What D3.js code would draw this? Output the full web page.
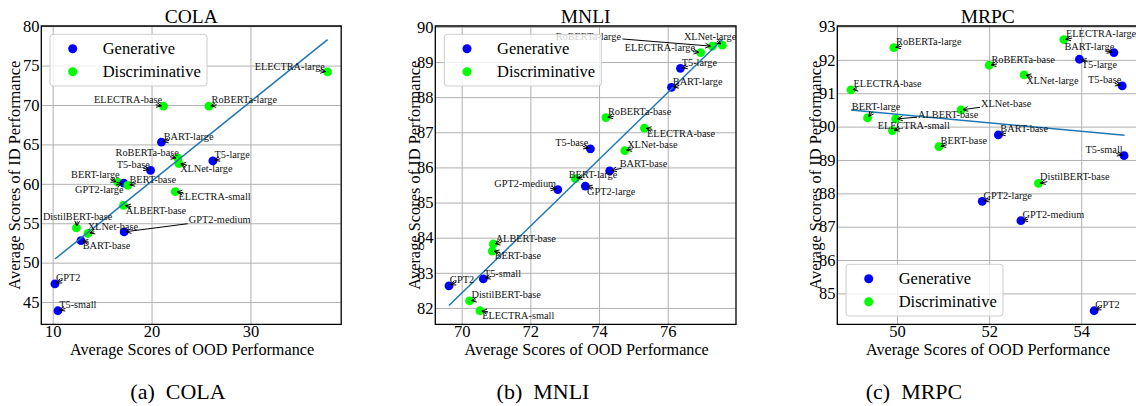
<!DOCTYPE html>
<html><head><meta charset="utf-8">
<script src="https://cdn.jsdelivr.net/npm/d3@7"></script>
<style>body{margin:0;background:#fff} svg{display:block}</style>
</head><body><svg id="c" width="1136" height="406"></svg>
<script>
// ---------- DATA ----------
const groupNames = ["Generative", "Discriminative"];
const xAxisTitle = "Average Scores of OOD Performance";
const yAxisTitle = "Average Scores of ID Performance";

// COLA
const colaModels = ["ELECTRA-large","ELECTRA-base","RoBERTa-large","BART-large","RoBERTa-base","XLNet-large","T5-large","T5-base","BERT-large","GPT2-large","BERT-base","ELECTRA-small","ALBERT-base","DistilBERT-base","XLNet-base","GPT2-medium","BART-base","GPT2","T5-small"];
const colaGroup  = ["D","D","D","G","D","D","G","G","D","G","D","D","D","D","D","G","G","G","G"];
const colaOOD    = [37.8,21.2,25.8,21.0,22.66,22.76,26.2,19.9,16.6,17.2,17.6,22.4,17.17,12.4,13.57,17.23,12.86,10.23,10.53];
const colaID     = [74.2,69.85,69.85,65.3,63.25,62.57,62.9,61.7,60.2,60.1,59.8,59.0,57.27,54.4,53.7,53.9,52.8,47.3,43.9];
const colaTrendX = [10.23, 37.8];
const colaTrendY = [50.46, 78.3];
const colaXTicks = [10, 20, 30];
const colaYTicks = [45, 50, 55, 60, 65, 70, 75, 80];

// MNLI
const mnliModels = ["XLNet-large","RoBERTa-large","ELECTRA-large","T5-large","BART-large","RoBERTa-base","ELECTRA-base","T5-base","XLNet-base","BART-base","BERT-large","GPT2-medium","GPT2-large","ALBERT-base","BERT-base","T5-small","GPT2","DistilBERT-base","ELECTRA-small"];
const mnliGroup  = ["D","D","D","G","G","D","D","G","D","G","D","G","G","D","D","G","G","D","D"];
const mnliOOD    = [77.59,77.3,76.96,76.37,76.11,74.2,75.32,73.75,74.75,74.31,73.31,72.8,73.6,70.92,70.89,70.63,69.63,70.23,70.53];
const mnliID     = [89.48,89.45,89.27,88.82,88.28,87.42,87.12,86.53,86.48,85.9,85.68,85.37,85.47,83.82,83.62,82.83,82.63,82.2,81.92];
const mnliTrendX = [69.63, 77.59];
const mnliTrendY = [82.07, 89.64];
const mnliXTicks = [70, 72, 74, 76];
const mnliYTicks = [82, 83, 84, 85, 86, 87, 88, 89, 90];

// MRPC
const mrpcModels = ["ELECTRA-large","BART-large","T5-large","RoBERTa-large","RoBERTa-base","XLNet-large","T5-base","ELECTRA-base","XLNet-base","BERT-large","ALBERT-base","ELECTRA-small","BART-base","BERT-base","T5-small","DistilBERT-base","GPT2-large","GPT2-medium","GPT2"];
const mrpcGroup  = ["D","G","G","D","D","D","G","D","D","D","D","D","G","D","G","D","G","G","G"];
const mrpcOOD    = [53.62,54.71,53.96,49.93,52.0,52.76,54.89,49.0,51.39,49.36,49.97,49.9,52.2,50.91,54.93,53.07,51.85,52.69,54.28];
const mrpcID     = [92.61,92.22,92.02,92.37,91.84,91.55,91.22,91.1,90.5,90.26,90.23,89.88,89.75,89.4,89.13,88.3,87.76,87.18,84.48];
const mrpcTrendX = [49.0, 54.94];
const mrpcTrendY = [90.5, 89.74];
const mrpcXTicks = [50, 52, 54];
const mrpcYTicks = [85, 86, 87, 88, 89, 90, 91, 92, 93];

// ---------- LAYOUT (annotation placement: anchor, dx, dy in px from point) ----------
const colaLabelPos = [["end",-2.7,-2],["end",-1.3,-2.9],["start",2.7,-2.9],["start",2.3,-2.5],["end",1,-1.9],["start",1.3,8.5],["start",1.7,-2.5],["end",-0.7,-2.2],["end",1.7,-3.9],["end",-0.3,9.5],["start",1.7,-2.2],["start",3.3,8.2],["start",2.3,9.1],["middle",1.2,-8.1],["start",-0.3,-3.2],["start",64.7,-8.8],["start",1.7,8.5],["start",1,-3.2],["start",1.3,-2.5]];
const mnliLabelPos = [["middle",-12.2,-5.5],["start",-156.7,-6.5],["end",-5.7,-1.5],["start",1.3,-2.2],["start",1.3,-2.5],["start",2,-2.1],["start",2.7,9.2],["end",-2,-2.5],["start",2.4,-2.8],["start",10,-4.2],["start",-6.6,-0.5],["end",-1.7,-2.5],["start",1.7,8.9],["start",2.4,-2.2],["start",2.4,8.2],["start",0.6,-2.1],["start",0.7,-2.8],["start",2,-2.5],["start",2.3,7.8]];
const mrpcLabelPos = [["start",2.3,-2.9],["end",0.3,-2.2],["start",2.4,8.5],["start",2.3,-2.5],["start",2.3,-2.1],["start",2,8.8],["end",-1,-2.5],["start",2.6,-2.5],["start",20,-2.8],["middle",8.6,-7.8],["start",22.4,-0.8],["start",-14.7,-1.9],["start",2,-2.5],["start",1.6,-2.5],["end",-1.4,-2.2],["start",1.7,-3.1],["start",1.3,-2.8],["start",1.6,-2.9],["start",1,-2.9]];

const panels = [
  {title:"COLA", caption:"(a)  COLA", models:colaModels, group:colaGroup, ood:colaOOD, id:colaID, tx:colaTrendX, ty:colaTrendY, xt:colaXTicks, yt:colaYTicks, lp:colaLabelPos,
   l:41.3, r:341.2, t:26, b:324.3, leg:[50,34.3], yTitleX:20, xTitleX:192, capX:178},
  {title:"MNLI", caption:"(b)  MNLI", models:mnliModels, group:mnliGroup, ood:mnliOOD, id:mnliID, tx:mnliTrendX, ty:mnliTrendY, xt:mnliXTicks, yt:mnliYTicks, lp:mnliLabelPos,
   l:435.3, r:736, t:26, b:324.3, leg:[444.3,34.3], yTitleX:419.5, xTitleX:586.7, capX:543},
  {title:"MRPC", caption:"(c)  MRPC", models:mrpcModels, group:mrpcGroup, ood:mrpcOOD, id:mrpcID, tx:mrpcTrendX, ty:mrpcTrendY, xt:mrpcXTicks, yt:mrpcYTicks, lp:mrpcLabelPos,
   l:837.3, r:1138.2, t:26, b:324.3, leg:[846,264.3], yTitleX:821, xTitleX:988, capX:914}
];

// pick an installed Times-like serif font
function pickFont(){
  const c = document.createElement("canvas").getContext("2d");
  const s = "Average Scores of OOD Performance 0123456789";
  const cands = ["Liberation Serif","Times New Roman","Tinos","Nimbus Roman","Times","FreeSerif","DejaVu Serif","Noto Serif"];
  for (const f of cands){
    let diff = false;
    for (const base of ["monospace","sans-serif"]){
      c.font = `20px ${base}`; const w0 = c.measureText(s).width;
      c.font = `20px "${f}", ${base}`; const w1 = c.measureText(s).width;
      if (Math.abs(w1-w0) > 0.5) diff = true;
    }
    if (diff) return `"${f}", serif`;
  }
  return "serif";
}
const FONT = pickFont();

const COLORS = {G:"#0000ff", D:"#00ff00"};
const svg = d3.select("#c").attr("font-family", FONT).style("font-family", FONT);

function padded(vals){
  const [a,b] = d3.extent(vals); const m = (b-a)*0.05; return [a-m, b+m];
}

panels.forEach(p => {
  const g = svg.append("g");
  const x = d3.scaleLinear().domain(padded(p.ood.concat(p.tx))).range([p.l, p.r]);
  const y = d3.scaleLinear().domain(padded(p.id.concat(p.ty))).range([p.b, p.t]);
  const W = p.r - p.l, H = p.b - p.t;

  // grid
  const gx = g.append("g").attr("transform",`translate(0,${p.b})`)
    .call(d3.axisBottom(x).tickValues(p.xt).tickSize(-H).tickFormat(""));
  const gy = g.append("g").attr("transform",`translate(${p.l},0)`)
    .call(d3.axisLeft(y).tickValues(p.yt).tickSize(-W).tickFormat(""));
  [gx,gy].forEach(s=>{ s.select(".domain").remove(); s.selectAll("line").attr("stroke","#b0b0b0").attr("stroke-width",1); });

  // tick labels
  const ax = g.append("g").attr("transform",`translate(0,${p.b})`)
    .call(d3.axisBottom(x).tickValues(p.xt).tickSize(0).tickPadding(0.5).tickFormat(d3.format("d")));
  const ay = g.append("g").attr("transform",`translate(${p.l},0)`)
    .call(d3.axisLeft(y).tickValues(p.yt).tickSize(0).tickPadding(1.8).tickFormat(d3.format("d")));
  [ax,ay].forEach(s=>{ s.attr("font-family",FONT).attr("font-size",16.5); s.select(".domain").remove(); s.selectAll("text").attr("font-size",16.5).attr("font-family",FONT).attr("fill","#000"); });

  // points
  p.models.forEach((m,i)=>{
    g.append("circle").attr("cx",x(p.ood[i])).attr("cy",y(p.id[i])).attr("r",4.4).attr("fill",COLORS[p.group[i]]);
  });

  // trend line
  g.append("path").attr("d", d3.line().x(d=>x(d[0])).y(d=>y(d[1]))(d3.zip(p.tx,p.ty)))
    .attr("stroke","#1f77b4").attr("stroke-width",1.5).attr("fill","none");

  // annotations
  p.models.forEach((m,i)=>{
    const px = x(p.ood[i]), py = y(p.id[i]);
    const [anc,dx,dy] = p.lp[i];
    const t = g.append("text").attr("x",px+dx).attr("y",py+dy).attr("text-anchor",anc)
      .attr("font-size",10.3).attr("fill","#111").text(m);
    const bb = t.node().getBBox();
    const pad = 1;
    const x0=bb.x-pad, x1=bb.x+bb.width+pad, y0=bb.y+1.5-pad, y1=bb.y+bb.height-1.5+pad;
    const cx=(x0+x1)/2, cy=(y0+y1)/2;
    let sx, sy;
    const inside = px>x0 && px<x1 && py>y0 && py<y1;
    const vx = px-cx, vy = py-cy, len = Math.hypot(vx,vy)||1;
    if (inside){
      sx = px - 7*vx/len; sy = py - 7*vy/len;
    } else {
      let tmin = 1;
      if (vx>0) tmin=Math.min(tmin,(x1-cx)/vx); if (vx<0) tmin=Math.min(tmin,(x0-cx)/vx);
      if (vy>0) tmin=Math.min(tmin,(y1-cy)/vy); if (vy<0) tmin=Math.min(tmin,(y0-cy)/vy);
      sx = cx+vx*tmin; sy = cy+vy*tmin;
    }
    let ex=px, ey=py;
    let ux=ex-sx, uy=ey-sy, L=Math.hypot(ux,uy);
    if (L < 6){
      const dxn = vx/len, dyn = vy/len; sx = px-8*dxn; sy = py-8*dyn; ux=px-sx; uy=py-sy; L=Math.hypot(ux,uy);
    }
    ux/=L; uy/=L;
    ex = px-ux*2; ey = py-uy*2;
    const hl=5, hw=2.4;
    const bx=ex-ux*hl, by=ey-uy*hl;
    g.append("path").attr("d",`M${sx},${sy}L${ex},${ey}M${bx-uy*hw},${by+ux*hw}L${ex},${ey}L${bx+uy*hw},${by-ux*hw}`)
      .attr("stroke","#000").attr("stroke-width",1).attr("fill","none");
  });

  // frame
  g.append("path").attr("d",`M${p.l},${p.t}H${p.r}V${p.b}H${p.l}Z`).attr("fill","none").attr("stroke","#000").attr("stroke-width",1.3);

  // legend
  const lg = g.append("g").attr("transform",`translate(${p.leg[0]},${p.leg[1]})`);
  lg.append("rect").attr("width",157).attr("height",51.7).attr("rx",3).attr("fill","#fff").attr("fill-opacity",0.8).attr("stroke","#cccccc").attr("stroke-width",1);
  ["G","D"].forEach((k,j)=>{
    lg.append("circle").attr("cx",22.7).attr("cy",14.4+23*j).attr("r",4.5).attr("fill",COLORS[k]);
    lg.append("text").attr("x",52.7).attr("y",14.4+23*j+5.6).attr("font-size",16.5).attr("fill","#000").text(groupNames[j]);
  });

  // titles
  g.append("text").attr("x",(p.l+p.r)/2).attr("y",22.7).attr("text-anchor","middle").attr("font-size",19.5).text(p.title);
  g.append("text").attr("x",p.xTitleX).attr("y",355).attr("text-anchor","middle").attr("font-size",16.2).text(xAxisTitle);
  g.append("text").attr("transform",`translate(${p.yTitleX},${(p.t+p.b)/2}) rotate(-90)`).attr("text-anchor","middle").attr("font-size",16.4).text(yAxisTitle);
  g.append("text").attr("x",p.capX).attr("y",398.5).attr("text-anchor","middle").attr("font-size",22)
    .style("white-space","pre").attr("xml:space","preserve").text(p.caption);
});
</script></body></html>
